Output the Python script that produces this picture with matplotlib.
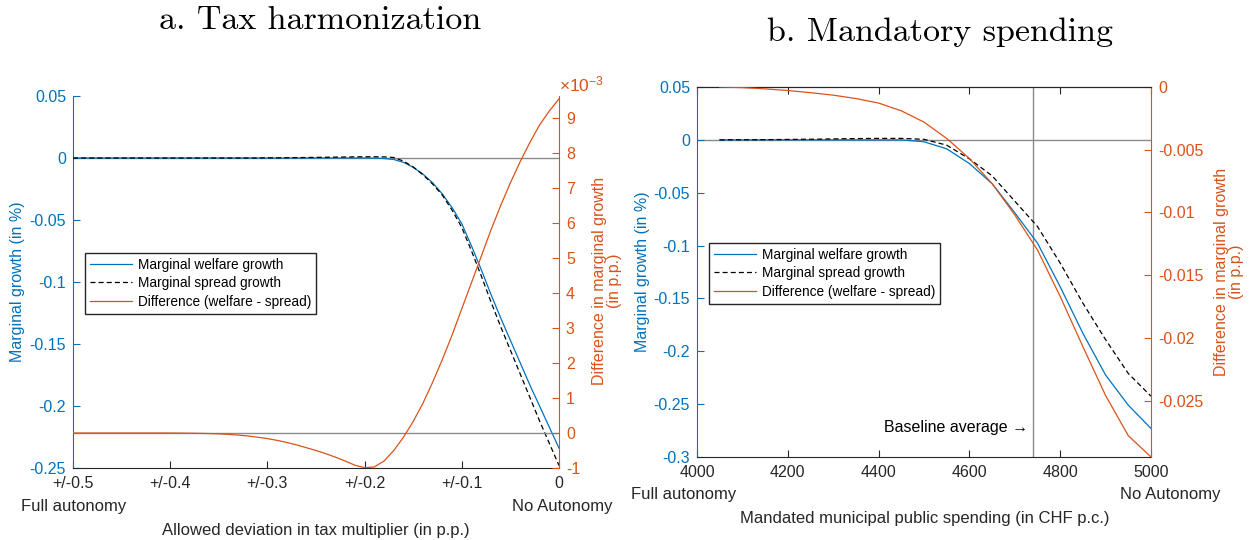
import numpy as np
import matplotlib
matplotlib.use("Agg")
import matplotlib.pyplot as plt
from matplotlib.lines import Line2D

plt.rcParams['font.family'] = ['Liberation Sans', 'DejaVu Sans']
plt.rcParams['font.size'] = 11.5

BLUE = '#0072BD'
ORANGE = '#D95319'
GRAY = '#8a8a8a'
DARK = '#262626'

# ---- panel a: tax harmonization ----
x_a = [-0.50, -0.49, -0.48, -0.47, -0.46, -0.45, -0.44, -0.43, -0.42, -0.41,
       -0.40, -0.39, -0.38, -0.37, -0.36, -0.35, -0.34, -0.33, -0.32, -0.31,
       -0.30, -0.29, -0.28, -0.27, -0.26, -0.25, -0.24, -0.23, -0.22, -0.21,
       -0.20, -0.19, -0.18, -0.17, -0.16, -0.15, -0.14, -0.13, -0.12, -0.11,
       -0.10, -0.09, -0.08, -0.07, -0.06, -0.05, -0.04, -0.03, -0.02, -0.01, 0.00]
welfare_a = [0] * 31 + [-0.0001, -0.0004, -0.0012, -0.0035, -0.0075, -0.013, -0.020,
                        -0.029, -0.040, -0.053, -0.071, -0.090, -0.110, -0.129,
                        -0.147, -0.165, -0.183, -0.200, -0.217, -0.234]
spread_a = [0] * 20 + [0.0001, 0.0001, 0.0002, 0.0003, 0.0004, 0.0005, 0.0006, 0.0007,
                       0.0008, 0.0009, 0.0010, 0.0010, 0.0009, 0.0004, -0.0025, -0.0072,
                       -0.0135, -0.021, -0.030, -0.042, -0.056, -0.075, -0.095, -0.116,
                       -0.136, -0.155, -0.174, -0.193, -0.212, -0.230, -0.248]
# difference, in units of 1e-3
diff_a = [0, 0, 0, 0, 0, 0, 0, 0, 0, 0,
          0, -0.003, -0.006, -0.01, -0.016, -0.025, -0.04, -0.06, -0.085, -0.12,
          -0.16, -0.21, -0.27, -0.34, -0.42, -0.50, -0.59, -0.69, -0.80, -0.92,
          -0.99, -0.97, -0.80, -0.50, -0.12, 0.33, 0.85, 1.45, 2.1, 2.8,
          3.55, 4.3, 5.05, 5.8, 6.5, 7.15, 7.75, 8.3, 8.8, 9.2, 9.55]
xticks_a = [-0.5, -0.4, -0.3, -0.2, -0.1, 0]
xticklabels_a = ['+/-0.5', '+/-0.4', '+/-0.3', '+/-0.2', '+/-0.1', '0']
yticks_a = [0.05, 0, -0.05, -0.1, -0.15, -0.2, -0.25]
yticklabels_a = ['0.05', '0', '-0.05', '-0.1', '-0.15', '-0.2', '-0.25']
rticks_a = [-1, 0, 1, 2, 3, 4, 5, 6, 7, 8, 9]

# ---- panel b: mandatory spending ----
x_b = [4050, 4100, 4150, 4200, 4250, 4300, 4350, 4400, 4450, 4500,
       4550, 4600, 4650, 4700, 4750, 4800, 4850, 4900, 4950, 5000]
welfare_b = [0, 0, 0, 0, 0, 0, 0, 0, 0, -0.0018,
             -0.0085, -0.0224, -0.0414, -0.069, -0.0977, -0.139, -0.183, -0.2225, -0.251, -0.273]
spread_b = [0, 0.0001, 0.0002, 0.0004, 0.0006, 0.0009, 0.0012, 0.0014, 0.0014, 0.0005,
            -0.005, -0.018, -0.034, -0.058, -0.082, -0.1166, -0.1545, -0.189, -0.221, -0.2425]
diff_b = [0, -0.00005, -0.00015, -0.00028, -0.00045, -0.00065, -0.00092, -0.00128, -0.0019, -0.0028,
          -0.0041, -0.0057, -0.0077, -0.0102, -0.013, -0.0167, -0.0207, -0.0246, -0.0278, -0.0295]
baseline_b = 4740
xticks_b = [4000, 4200, 4400, 4600, 4800, 5000]
yticks_b = [0.05, 0, -0.05, -0.1, -0.15, -0.2, -0.25, -0.3]
yticklabels_b = ['0.05', '0', '-0.05', '-0.1', '-0.15', '-0.2', '-0.25', '-0.3']
rticks_b = [0, -0.005, -0.01, -0.015, -0.02, -0.025]
rticklabels_b = ['0', '-0.005', '-0.01', '-0.015', '-0.02', '-0.025']

W, H = 1255, 540
fig = plt.figure(figsize=(W / 100, H / 100), dpi=100)


def px_axes(l, t, r, b):
    return fig.add_axes([l / W, 1 - b / H, (r - l) / W, (b - t) / H])


def ftext(x, y, s, **kw):
    # text placed by pixel position (from the top-left corner)
    return fig.text(x / W, 1 - y / H, s, ha='center', va='center', **kw)


def style(ax, ax2, box):
    ax.spines['left'].set_color(BLUE)
    ax.spines['bottom'].set_color(DARK)
    ax.spines['right'].set_visible(False)
    ax2.spines['right'].set_color(ORANGE)
    ax2.spines['left'].set_visible(False)
    ax2.spines['bottom'].set_visible(False)
    if box:
        ax.spines['top'].set_color(DARK)
        ax2.spines['top'].set_color(DARK)
    else:
        ax.spines['top'].set_visible(False)
        ax2.spines['top'].set_visible(False)
    ax.tick_params(axis='y', colors=BLUE, direction='in', length=5, pad=5)
    ax.tick_params(axis='x', colors=DARK, direction='in', length=5, pad=6, top=box)
    ax2.tick_params(axis='y', colors=ORANGE, direction='in', length=5, pad=5)


handles = [Line2D([], [], color=BLUE, lw=0.9),
           Line2D([], [], color='black', lw=0.9, ls=(0, (4, 2.5))),
           Line2D([], [], color=ORANGE, lw=0.9)]
names = ['Marginal welfare growth', 'Marginal spread growth', 'Difference (welfare - spread)']
leg_kw = dict(loc='upper left', bbox_transform=fig.transFigure, borderaxespad=0,
              fontsize=9.8, fancybox=False, edgecolor=DARK, framealpha=1,
              handlelength=3.1, labelspacing=0.33, borderpad=0.35, handletextpad=0.45)

# panel a
ax = px_axes(73, 96, 559, 468)
ax2 = ax.twinx()
ax.axhline(0, color=GRAY, lw=1.0, zorder=1)
ax2.axhline(0, color=GRAY, lw=1.0, zorder=1)
ax.plot(x_a, welfare_a, color=BLUE, lw=0.9, zorder=3)
ax.plot(x_a, spread_a, color='black', lw=0.9, ls=(0, (4, 2.5)), zorder=3)
ax2.plot(x_a, diff_a, color=ORANGE, lw=0.9, zorder=3)
ax.set_xlim(-0.5, 0)
ax.set_ylim(-0.25, 0.05)
ax2.set_ylim(-1, 9.63)
ax.set_xticks(xticks_a, xticklabels_a)
ax.set_yticks(yticks_a, yticklabels_a)
ax2.set_yticks(rticks_a, [str(v) for v in rticks_a])
style(ax, ax2, False)
ax2.text(1.0, 1.003, r'$\mathregular{\times10^{-3}}$', transform=ax2.transAxes,
         color=ORANGE, fontsize=12.5, ha='left', va='bottom')
ax.legend(handles, names, bbox_to_anchor=(85 / W, 1 - 253 / H), **leg_kw)

ftext(18, 282, 'Marginal growth (in %)', color=BLUE, fontsize=11.5, rotation=90)
ftext(607, 281, 'Difference in marginal growth\n(in p.p.)', color=ORANGE, fontsize=11.5,
      rotation=90, linespacing=1.05)
ftext(316, 530, 'Allowed deviation in tax multiplier (in p.p.)', color=DARK, fontsize=12)
ftext(74, 507, 'Full autonomy', color=DARK, fontsize=12)
ftext(562, 507, 'No Autonomy', color=DARK, fontsize=12)

# panel b
bx = px_axes(697, 87, 1151, 457)
bx2 = bx.twinx()
bx.axhline(0, color=GRAY, lw=1.0, zorder=1)
bx.axvline(baseline_b, color=GRAY, lw=1.0, zorder=1)
bx.plot(x_b, welfare_b, color=BLUE, lw=0.9, zorder=3)
bx.plot(x_b, spread_b, color='black', lw=0.9, ls=(0, (4, 2.5)), zorder=3)
bx2.plot(x_b, diff_b, color=ORANGE, lw=0.9, zorder=3)
bx.set_xlim(4000, 5000)
bx.set_ylim(-0.3, 0.05)
bx2.set_ylim(-0.0295, 0)
bx.set_xticks(xticks_b, [str(v) for v in xticks_b])
bx.set_yticks(yticks_b, yticklabels_b)
bx2.set_yticks(rticks_b, rticklabels_b)
style(bx, bx2, True)
bx.annotate('Baseline average \u2192', xy=(baseline_b, -0.272), xytext=(-5, 0),
            textcoords='offset pixels', ha='right', va='center', color='black', fontsize=11.5)
bx.legend(handles, names, bbox_to_anchor=(709 / W, 1 - 243 / H), **leg_kw)

ftext(642, 272, 'Marginal growth (in %)', color=BLUE, fontsize=11.5, rotation=90)
ftext(1229, 272, 'Difference in marginal growth\n(in p.p.)', color=ORANGE, fontsize=11.5,
      rotation=90, linespacing=1.05)
ftext(925, 519, 'Mandated municipal public spending (in CHF p.c.)', color=DARK, fontsize=12)
ftext(684, 495, 'Full autonomy', color=DARK, fontsize=12)
ftext(1170, 495, 'No Autonomy', color=DARK, fontsize=12)

ftext(320, 20, 'a. Tax harmonization', family='cmr10', fontsize=24.5)
ftext(940, 32, 'b. Mandatory spending', family='cmr10', fontsize=24.5)

fig.savefig('out.png', dpi=100)
